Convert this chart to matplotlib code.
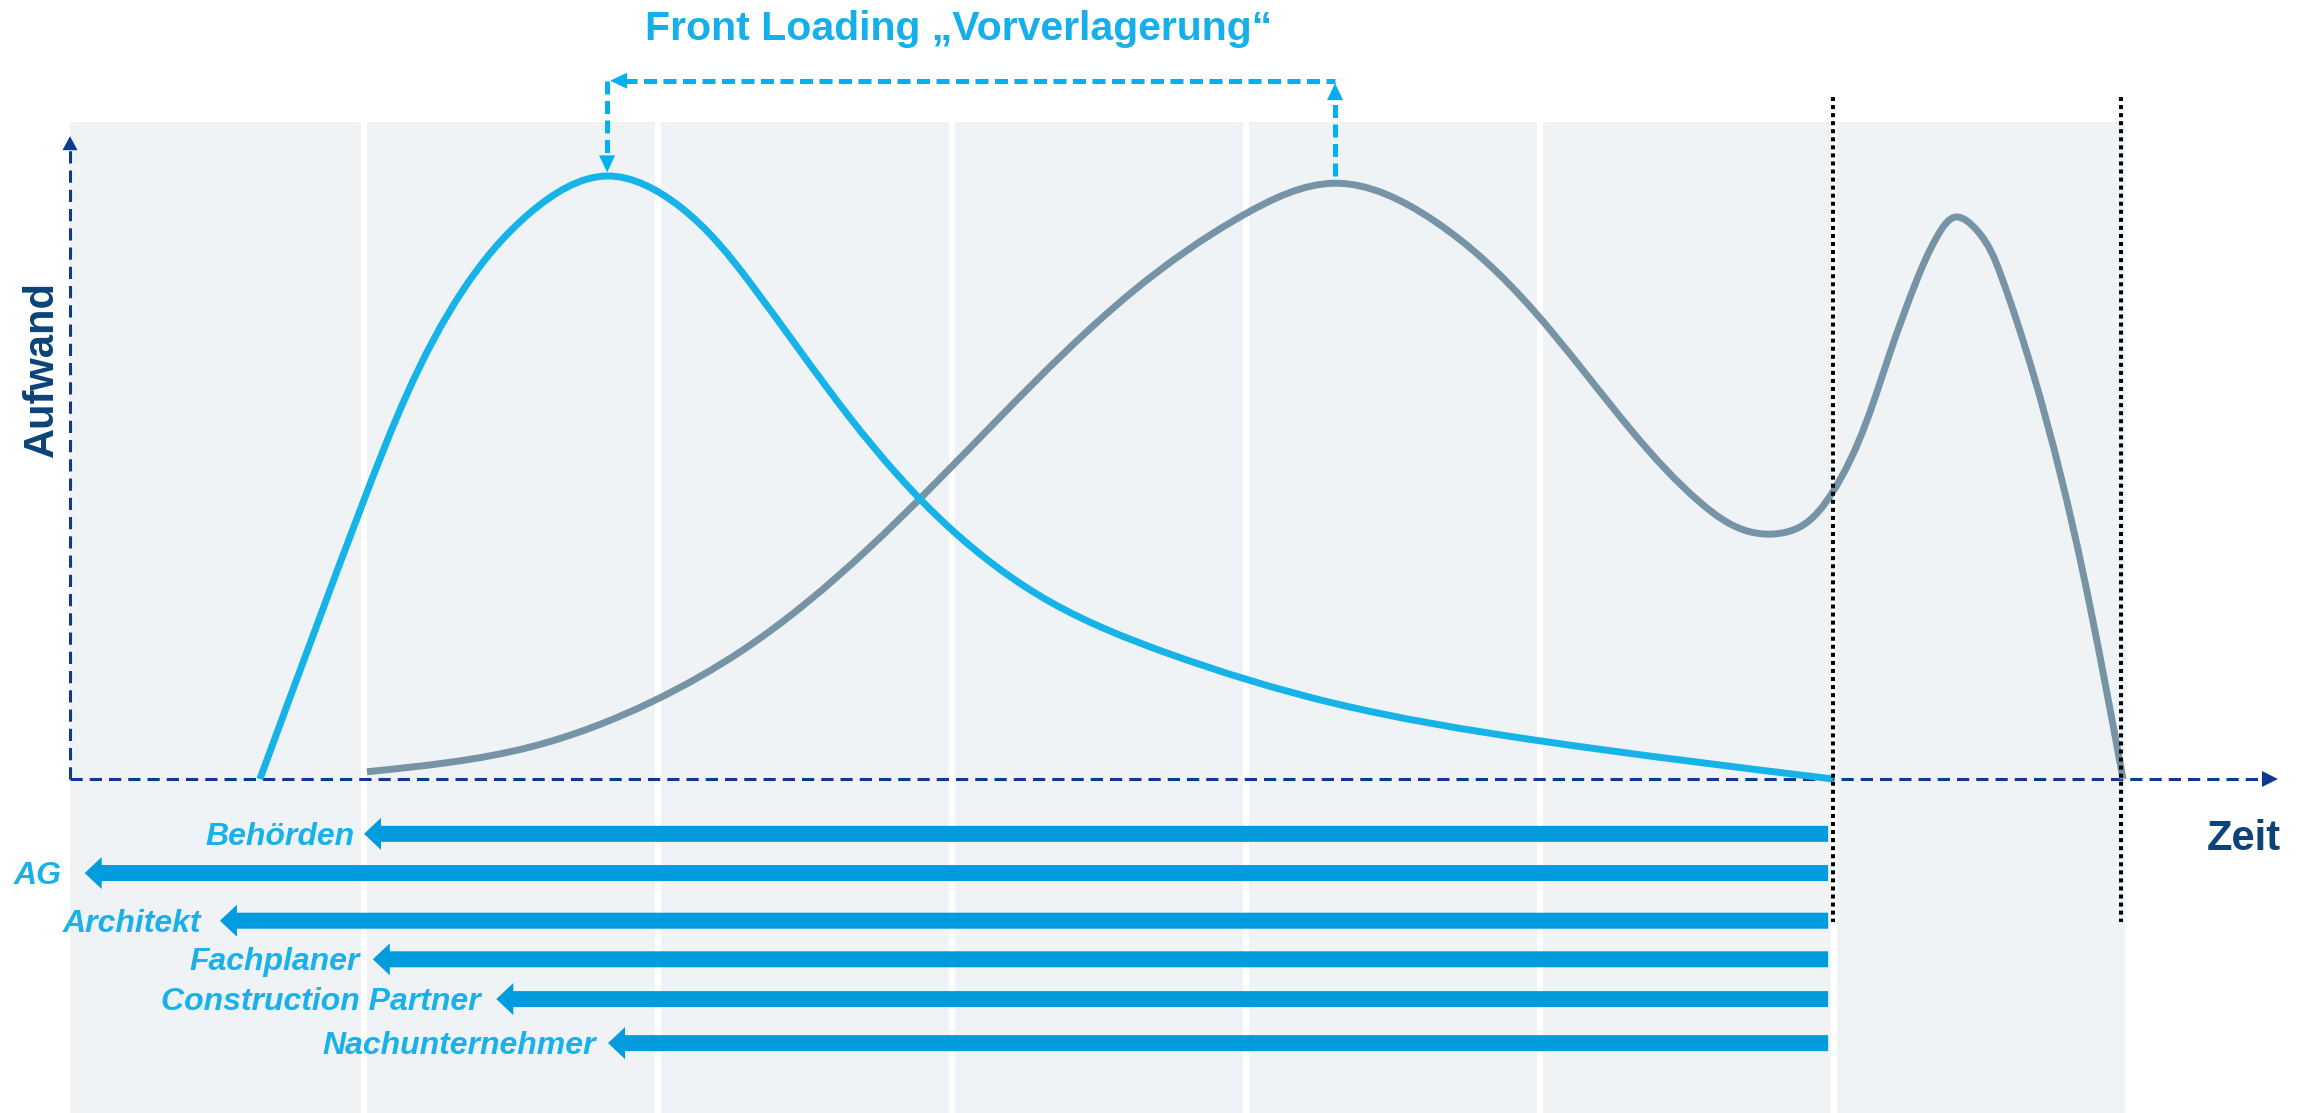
import matplotlib

matplotlib.use("Agg")

import matplotlib.pyplot as plt
import numpy as np
from matplotlib.patches import PathPatch
from matplotlib.path import Path

plt.rcParams["font.family"] = ["Liberation Sans", "DejaVu Sans"]

# project time in phases (0..7), effort relative to the front-loaded peak
front_t = [0.646, 0.997, 1.337, 1.565, 1.827, 2.075, 2.313, 2.653, 2.993, 3.333,
           3.731, 4.296, 4.976, 5.997]
front_effort = [0.0, 45.9, 81.1, 93.9, 100.0, 94.9, 82.3, 59.9, 41.6, 29.4,
                20.9, 12.6, 6.5, 0.0]

classic_t = [1.010, 1.565, 1.983, 2.289, 2.711, 3.163, 3.616, 3.990, 4.303, 4.636,
             4.976, 5.316, 5.544, 5.714, 5.884, 5.993, 6.190, 6.282, 6.350, 6.415,
             6.486, 6.565, 6.677, 6.847, 6.983]
classic_effort = [1.2, 5.3, 12.9, 21.4, 38.0, 60.0, 80.9, 93.5, 98.8, 92.7,
                  77.8, 57.5, 45.9, 41.0, 41.8, 47.4, 70.6, 82.8, 89.9, 93.2,
                  91.0, 83.9, 67.3, 34.2, 0.0]

# who gets involved when (arrows run back from the end of planning)
parties = ["Behörden", "AG", "Architekt", "Fachplaner", "Construction Partner", "Nachunternehmer"]
party_start = [1.00, 0.05, 0.51, 1.03, 1.45, 1.83]
party_end = 5.98

milestones = [5.995, 6.975]
n_phases = 7

# layout
lanes = [-9.1, -15.6, -23.5, -29.9, -36.5, -43.8]
label_gap_px = [9, 23, 19, 13, 16, 12]
PX_X, PX_Y = 294.0, 6.03  # pixels per data unit

PANEL = "#eff3f5"
FRONT = "#15b3e8"
CLASSIC = "#7793a6"
BAR = "#009cde"
LABEL = "#1ab1ea"
BRACKET = "#00b0f0"
AXIS = "#0d3a8f"
AXIS_TEXT = "#0c4378"


def smooth_path(xs, ys):
    # natural cubic spline through the points (chord-length knots), as Bezier segments
    scale = np.array([PX_X, PX_Y])
    p = np.column_stack([xs, ys]) * scale
    n = len(p)
    h = np.hypot(*np.diff(p, axis=0).T)
    A = np.zeros((n, n))
    rhs = np.zeros((n, 2))
    A[0, 0], A[0, 1] = 2, 1
    rhs[0] = 3 * (p[1] - p[0]) / h[0]
    A[-1, -2], A[-1, -1] = 1, 2
    rhs[-1] = 3 * (p[-1] - p[-2]) / h[-1]
    for i in range(1, n - 1):
        A[i, i - 1] = h[i]
        A[i, i] = 2 * (h[i - 1] + h[i])
        A[i, i + 1] = h[i - 1]
        rhs[i] = 3 * (h[i] * (p[i] - p[i - 1]) / h[i - 1] + h[i - 1] * (p[i + 1] - p[i]) / h[i])
    d = np.linalg.solve(A, rhs)
    verts = [p[0]]
    codes = [Path.MOVETO]
    for i in range(n - 1):
        verts += [p[i] + d[i] * h[i] / 3, p[i + 1] - d[i + 1] * h[i] / 3, p[i + 1]]
        codes += [Path.CURVE4] * 3
    return Path(np.array(verts) / scale, codes)


def head(ax, tip, direction, color, length=17, width=16):
    dx, dy = direction
    back = (tip[0] - dx * 40 / PX_X, tip[1] - dy * 40 / PX_Y)
    ax.annotate(
        "", xy=tip, xytext=back,
        arrowprops=dict(
            arrowstyle=f"-|>,head_length={length / 13.9:.3f},head_width={width / 27.8:.3f}",
            mutation_scale=10, color=color, lw=0, shrinkA=0, shrinkB=0,
        ),
    )


fig = plt.figure(figsize=(23.16, 11.13), dpi=100)
ax = fig.add_axes([0, 0, 1, 1])
ax.set_xlim(-70 / PX_X, 2246 / PX_X)
ax.set_ylim(-334 / PX_Y, 779 / PX_Y)
ax.axis("off")

# phase panels
for i in range(n_phases):
    left = i + (0.01 if i else 0.0)
    right = i + 0.99
    ax.bar(left, 109.0 + 60, bottom=-60, width=right - left, align="edge",
           color=PANEL, zorder=0)

# axes
ax.plot([0, 7.46], [0, 0], color=AXIS, lw=2.2, dashes=(4, 2.3), dash_capstyle="butt", zorder=2)
head(ax, (7.51, 0), (1, 0), AXIS, length=16, width=16)
ax.plot([0, 0], [0, 104.3], color=AXIS, lw=2.2, dashes=(4, 2.3), dash_capstyle="butt", zorder=2)
head(ax, (0, 106.6), (0, 1), AXIS, length=14, width=15)

# effort curves
for xs, ys, color, z in [(classic_t, classic_effort, CLASSIC, 3), (front_t, front_effort, FRONT, 4)]:
    ax.add_patch(PathPatch(smooth_path(xs, ys), fill=False, edgecolor=color, lw=5.0,
                           capstyle="butt", joinstyle="round", zorder=z))

# milestones
for m in milestones:
    ax.plot([m, m], [113.1, -23.7], color="black", lw=2.9, dashes=(1, 1),
            dash_capstyle="butt", zorder=5)

# front loading bracket between the two peaks
i_front = int(np.argmax(front_effort))
classic_first = [e if t < 5 else 0 for t, e in zip(classic_t, classic_effort)]
i_classic = int(np.argmax(classic_first))
x_l, y_l = front_t[i_front], front_effort[i_front]
x_r, y_r = classic_t[i_classic], classic_effort[i_classic]
y_top = 115.8
bracket_style = dict(color=BRACKET, lw=3.6, dashes=(2.6, 1.3), dash_capstyle="butt", zorder=6)
ax.plot([x_l + 17 / PX_X, x_r], [y_top, y_top], **bracket_style)
ax.plot([x_l, x_l], [y_top, y_l + 0.6 + 17 / PX_Y], **bracket_style)
ax.plot([x_r, x_r], [y_r + 1.2, y_top - 17 / PX_Y - 0.4], **bracket_style)
head(ax, (x_l + 3 / PX_X, y_top), (-1, 0), BRACKET)
head(ax, (x_l, y_l + 0.6), (0, -1), BRACKET)
head(ax, (x_r, y_top - 0.4), (0, 1), BRACKET)

# involvement arrows
for name, start, lane, gap in zip(parties, party_start, lanes, label_gap_px):
    ax.arrow(party_end, lane, start - party_end, 0, width=16 / PX_Y,
             head_width=32 / PX_Y, head_length=17 / PX_X,
             length_includes_head=True, color=BAR, lw=0, zorder=4)
    ax.annotate(name, xy=(start, lane), xytext=(-gap * 0.72, -8), textcoords="offset points",
                ha="right", va="baseline", fontsize=23, fontweight="bold",
                fontstyle="italic", color=LABEL)

ax.text(3.024, 122.6, "Front Loading „Vorverlagerung“", ha="center", va="baseline",
        fontsize=29.5, fontweight="bold", color="#15b0ec")
ax.text(-0.058, 68.0, "Aufwand", rotation=90, rotation_mode="anchor", ha="center",
        va="baseline", fontsize=30, fontweight="bold", color=AXIS_TEXT)
ax.text(7.395, -11.8, "Zeit", ha="center", va="baseline", fontsize=30,
        fontweight="bold", color=AXIS_TEXT)

fig.savefig("out.png", dpi=100, facecolor="white")
plt.close(fig)
